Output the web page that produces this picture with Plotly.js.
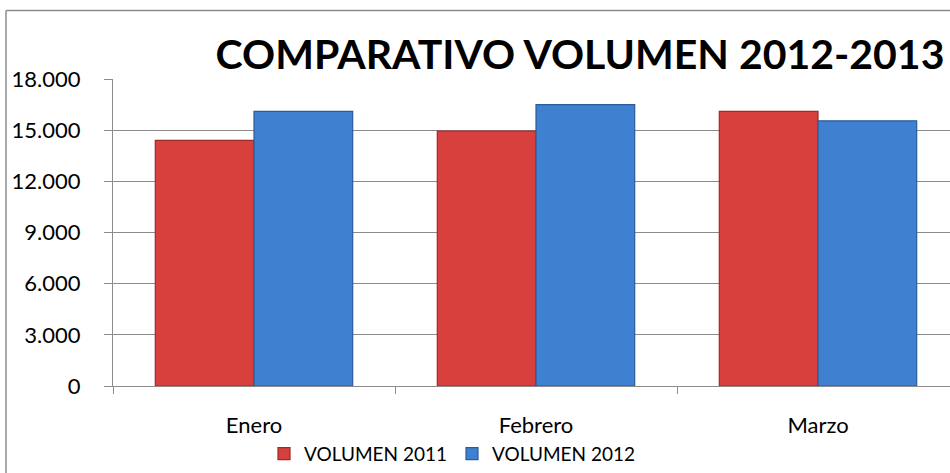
<!DOCTYPE html>
<html>
<head>
<meta charset="utf-8">
<script src="https://cdn.plot.ly/plotly-3.0.1.min.js"></script>
<style>
html,body{margin:0;padding:0;background:#fff;}
#chart{width:950px;height:473px;}
</style>
</head>
<body>
<div id="chart"></div>
<script>
const categories = ["Enero", "Febrero", "Marzo"];
const seriesNames = ["VOLUMEN 2011", "VOLUMEN 2012"];
const volumen2011 = [14400, 14950, 16100];
const volumen2012 = [16100, 16500, 15550];
const yTickValues = [0, 3000, 6000, 9000, 12000, 15000, 18000];
const yTickLabels = ["0", "3.000", "6.000", "9.000", "12.000", "15.000", "18.000"];
const chartTitle = "COMPARATIVO VOLUMEN 2012-2013";

const font = "Lato, 'Open Sans', sans-serif";

const traces = [
  {
    type: "bar",
    name: seriesNames[0],
    x: categories,
    y: volumen2011,
    marker: {color: "#D7403C", line: {color: "#9E2A27", width: 1.2}},
    hoverinfo: "x+y"
  },
  {
    type: "bar",
    name: seriesNames[1],
    x: categories,
    y: volumen2012,
    marker: {color: "#3F80D0", line: {color: "#2B5C9C", width: 1.2}},
    hoverinfo: "x+y"
  }
];

// plot area pixel geometry: left 113, right 959 (cut by canvas), top 79, bottom 388
const L = 113, T = 79, B = 388, W = 950, H = 473;
const pw = W - L, ph = B - T;
const px = v => (v - L) / pw;
const py = v => (B - v) / ph;

const layout = {
  width: W,
  height: H,
  margin: {l: L, r: 0, t: T, b: H - B, pad: 0},
  paper_bgcolor: "#ffffff",
  plot_bgcolor: "#ffffff",
  font: {family: font, color: "#000000"},
  title: {
    text: "<b>" + chartTitle + "</b>",
    font: {family: font, size: 41, color: "#000000"},
    xref: "container", yref: "container",
    x: 580 / W, xanchor: "center",
    y: 1 - 55 / H, yanchor: "middle"
  },
  barmode: "group",
  bargap: 0.3,
  bargroupgap: 0,
  showlegend: true,
  legend: {
    orientation: "h",
    x: px(264), xanchor: "left",
    y: py(437), yanchor: "top",
    font: {family: font, size: 19, color: "#000000"},
    itemwidth: 30,
    tracegroupgap: 0,
    bgcolor: "rgba(0,0,0,0)"
  },
  xaxis: {
    type: "category",
    range: [-0.5, -0.5 + pw / 282],
    showgrid: false,
    showline: true,
    linecolor: "#8c8c8c",
    linewidth: 1,
    ticks: "outside",
    tickson: "boundaries",
    ticklen: 7,
    tickcolor: "#8c8c8c",
    ticklabelstandoff: 20,
    tickfont: {family: font, size: 22, color: "#000000"},
    fixedrange: true,
    zeroline: false
  },
  yaxis: {
    range: [0, 18000],
    tickmode: "array",
    tickvals: yTickValues,
    ticktext: yTickLabels,
    showgrid: true,
    gridcolor: "#8c8c8c",
    gridwidth: 1,
    showline: true,
    linecolor: "#8c8c8c",
    linewidth: 1,
    ticks: "outside",
    ticklen: 8,
    tickcolor: "#8c8c8c",
    ticklabelstandoff: 19,
    tickfont: {family: font, size: 22, color: "#000000"},
    zeroline: false,
    fixedrange: true
  },
  shapes: [
    {
      type: "line",
      xref: "paper", yref: "paper",
      x0: px(6), x1: px(6), y0: py(480), y1: py(10),
      line: {color: "#8c8c8c", width: 1.5},
      layer: "below"
    },
    {
      type: "line",
      xref: "paper", yref: "paper",
      x0: px(6), x1: px(960), y0: py(10), y1: py(10),
      line: {color: "#8c8c8c", width: 1.5},
      layer: "below"
    }
  ]
};

Plotly.newPlot("chart", traces, layout, {displayModeBar: false, staticPlot: true});
</script>
</body>
</html>
